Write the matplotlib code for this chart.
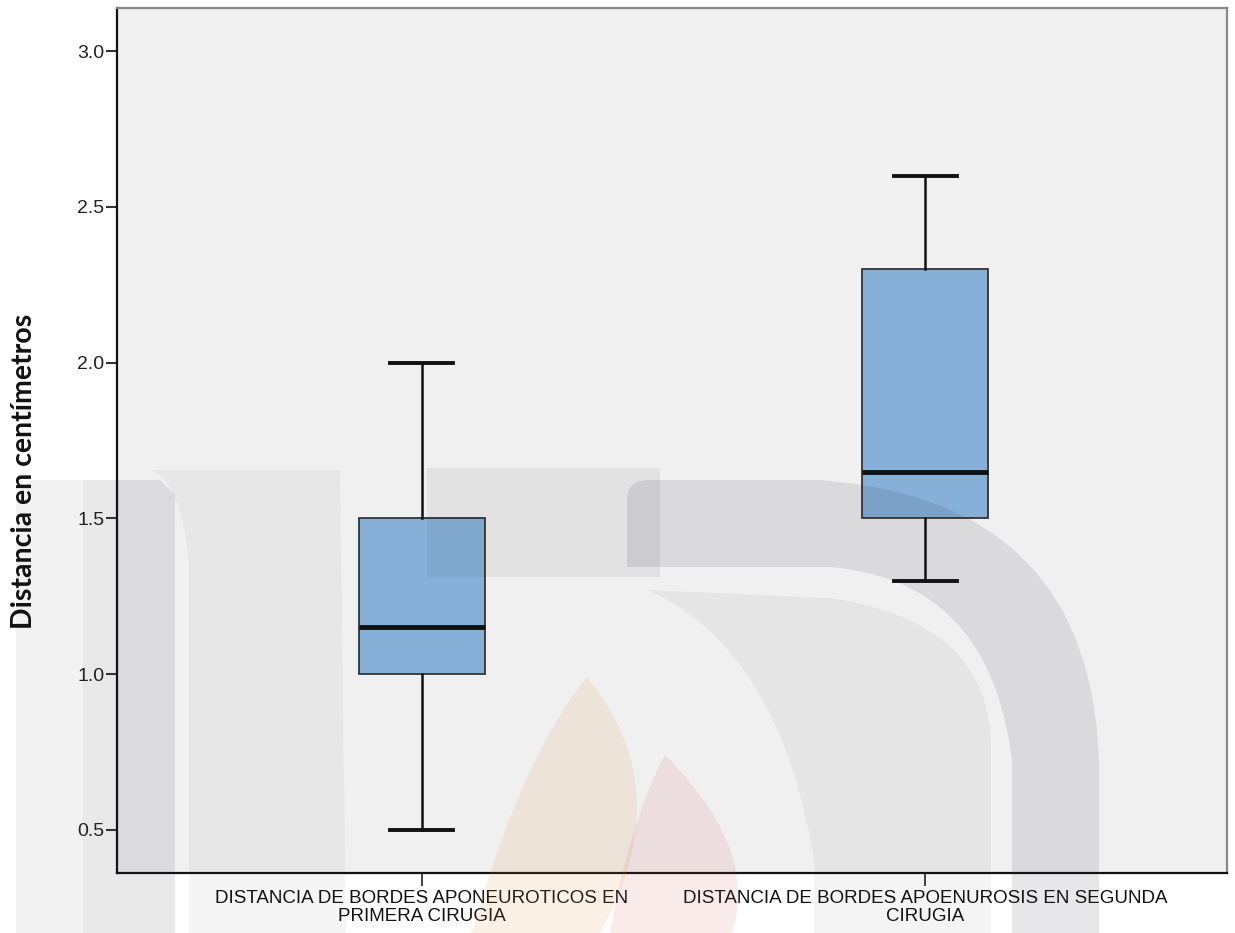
import matplotlib
matplotlib.use('Agg')
import matplotlib.pyplot as plt
import numpy as np
from matplotlib.patches import Polygon

# box statistics
labels = ['DISTANCIA DE BORDES APONEUROTICOS EN\nPRIMERA CIRUGIA',
          'DISTANCIA DE BORDES APOENUROSIS EN SEGUNDA\nCIRUGIA']
whislo = [0.5, 1.3]
q1 = [1.0, 1.5]
med = [1.15, 1.65]
q3 = [1.5, 2.3]
whishi = [2.0, 2.6]
yticks = [0.5, 1.0, 1.5, 2.0, 2.5, 3.0]
ylabel = 'Distancia en centímetros'

W, H = 1235, 933


def quad(p0, p1, p2, n=16):
    t = np.linspace(0, 1, n)[:, None]
    p0, p1, p2 = map(np.array, (p0, p1, p2))
    return list((1 - t)**2 * p0 + 2 * (1 - t) * t * p1 + t**2 * p2)


def wm(fig, pts, color, alpha):
    pts = np.array(pts, dtype=float)
    pts[:, 0] = pts[:, 0] / W
    pts[:, 1] = 1 - pts[:, 1] / H
    fig.add_artist(Polygon(pts, closed=True, transform=fig.transFigure,
                           facecolor=color, edgecolor='none', alpha=alpha, zorder=5))


def draw_watermark(fig):
    # faint logo shapes lying over the whole page
    grey = '#2a2a3a'
    wm(fig, [(16, 933), (16, 495), (30, 480), (83, 480), (83, 933)], grey, 0.06)
    wm(fig, [(83, 933), (83, 480), (160, 480), (175, 495), (175, 933)], grey, 0.1)
    wm(fig, [(189, 933), (189, 560)] + quad((189, 560), (180, 480), (150, 470))
       + [(340, 470), (346, 933)], grey, 0.045)
    wm(fig, [(427, 468), (660, 468), (660, 577), (427, 577)], grey, 0.07)
    outer = [(627, 567), (627, 500)] + quad((627, 500), (627, 480), (650, 480)) \
        + quad((820, 480), (1090, 500), (1099, 760)) + [(1099, 933), (1012, 933), (1012, 760)] \
        + quad((1012, 760), (990, 580), (830, 567))
    wm(fig, outer, grey, 0.11)
    inner = [(648, 590)] + quad((830, 598), (985, 620), (991, 740)) + [(991, 933), (814, 933), (814, 860)] \
        + quad((814, 860), (780, 650), (648, 590))
    wm(fig, inner, grey, 0.05)
    orange = quad((587, 677), (680, 790), (600, 933)) + quad((472, 933), (520, 760), (587, 677))
    wm(fig, orange, '#e08a30', 0.12)
    red = quad((665, 755), (760, 850), (732, 933)) + quad((610, 933), (630, 820), (665, 755))
    wm(fig, red, '#d04040', 0.1)


fig = plt.figure(figsize=(W / 100, H / 100), dpi=100)
ax = fig.add_axes([117 / W, 1 - 873 / H, 1110 / W, 865 / H])
ax.set_facecolor('#f0f0f0')

stats = []
for i in range(len(labels)):
    stats.append(dict(whislo=whislo[i], q1=q1[i], med=med[i], q3=q3[i],
                      whishi=whishi[i], fliers=[]))

ax.bxp(stats, positions=[1, 2], widths=0.249, capwidths=0.125,
       patch_artist=True, showfliers=False,
       boxprops=dict(facecolor='#86b0d8', edgecolor='#333333', linewidth=1.3),
       medianprops=dict(color='#111111', linewidth=3.5),
       whiskerprops=dict(color='#111111', linewidth=1.8),
       capprops=dict(color='#111111', linewidth=2.8))

ax.set_xlim(0.394, 2.6)
ax.set_ylim(0.362, 3.138)
ax.set_yticks(yticks)
ax.set_yticklabels([f'{v:.1f}' for v in yticks], fontsize=14,
                   family='Liberation Sans', color='#222222')
ax.set_xticks([1, 2])
ax.set_xticklabels(labels, fontsize=13.5, family='Liberation Sans',
                   color='#111111', linespacing=1.1)
ax.tick_params(axis='y', direction='out', length=8, width=1.5, pad=1, color='#333333')
ax.tick_params(axis='x', direction='out', length=9, width=1.3, pad=3, color='#333333')

for side in ['left', 'bottom']:
    ax.spines[side].set_color('#111111')
    ax.spines[side].set_linewidth(1.6)
for side in ['top', 'right']:
    ax.spines[side].set_color('#888888')
    ax.spines[side].set_linewidth(1.6)

fig.text(24 / W, 1 - 471 / H, ylabel, rotation=90, ha='center', va='center',
         fontsize=20.5, fontweight='bold', family=['Lato', 'DejaVu Sans'], color='#111111')

draw_watermark(fig)

fig.savefig('out.png', dpi=100, facecolor='white')
